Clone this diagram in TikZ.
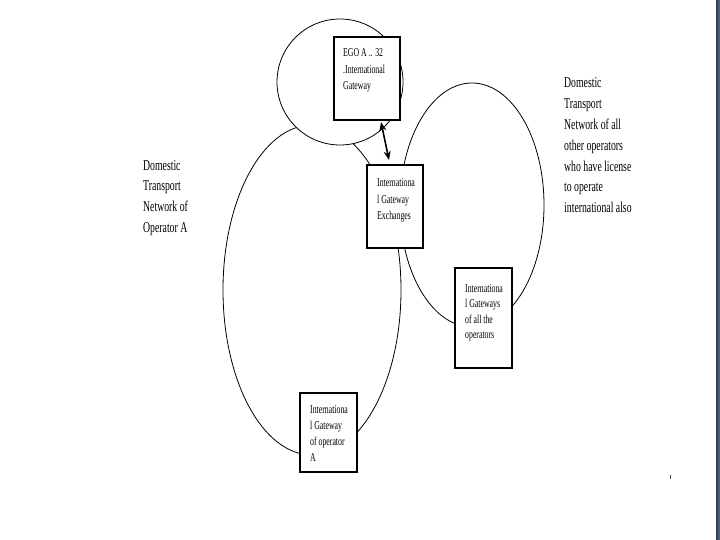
\documentclass[tikz,border=0pt]{standalone}
\usepackage{fontspec}
\setmainfont{Liberation Serif}[FakeStretch=0.65]
\usetikzlibrary{arrows.meta,calc}
\definecolor{barblue}{RGB}{48,60,92}
\definecolor{barlight}{RGB}{95,110,140}
\begin{document}
\begin{tikzpicture}[x=1pt,y=-1pt,
  ring/.style={draw=black,line width=0.8pt},
  gbox/.style={draw=black,line width=1.6pt,fill=white,rectangle,inner sep=0pt},
  sidetxt/.style={font=\fontsize{15}{20.8}\selectfont,align=left,anchor=base west,inner sep=0pt},
  boxtxt/.style={font=\fontsize{12}{16.5}\selectfont,align=left,anchor=base west,inner sep=0pt},
  link/.style={line width=1.6pt,{Stealth[length=9pt,width=7pt]}-{Stealth[length=9pt,width=7pt]}}]
\useasboundingbox (0,0) rectangle (720,540);
\fill[white] (0,0) rectangle (720,540);
% networks
\draw[ring] (312,290) ellipse [x radius=89,y radius=165];
\draw[ring] (472,205) ellipse [x radius=72,y radius=122];
\draw[ring,fill=white] (340,82) circle [radius=63];
% boxes
\node[gbox,minimum width=66pt,minimum height=83pt] (b1) at (367,78.5) {};
\node[gbox,minimum width=56pt,minimum height=83pt] (b2) at (395,206.5) {};
\node[gbox,minimum width=57pt,minimum height=100pt] (b3) at (483.5,318) {};
\node[gbox,minimum width=57pt,minimum height=79pt] (b4) at (328.5,432.5) {};
% box texts (anchored at the baseline of the last line)
\node[boxtxt] (t1) at (343,90) {EGO A .. 32\\ .International\\ Gateway};
\node[boxtxt] (t2) at (377,220) {Internationa\\ l Gateway\\ Exchanges};
\node[boxtxt,font=\fontsize{12}{15.5}\selectfont] (t3) at (465,338.5) {Internationa\\ l Gateways\\ of all the\\ operators};
\node[boxtxt,font=\fontsize{12}{15.7}\selectfont] (t4) at (310,461) {Internationa\\ l Gateway\\ of operator\\ A};
% side texts
\node[sidetxt] (lt) at (143,232.4) {Domestic\\ Transport\\ Network of\\ Operator A};
\node[sidetxt] (rt) at (564,212.8) {Domestic\\ Transport\\ Network of all\\ other operators\\ who have license\\ to operate\\ international also};
% arrow
\coordinate (a1) at (381,122);
\coordinate (a2) at (389,160);
\draw[link] (a1) -- (a2);
% right edge bar and small mark
\shade[left color=barblue,right color=barlight] (716,0) rectangle (720,540);
\draw[gray!60!black,line width=0.6pt] (670.7,475) -- (670.7,479);
\end{tikzpicture}
\end{document}
